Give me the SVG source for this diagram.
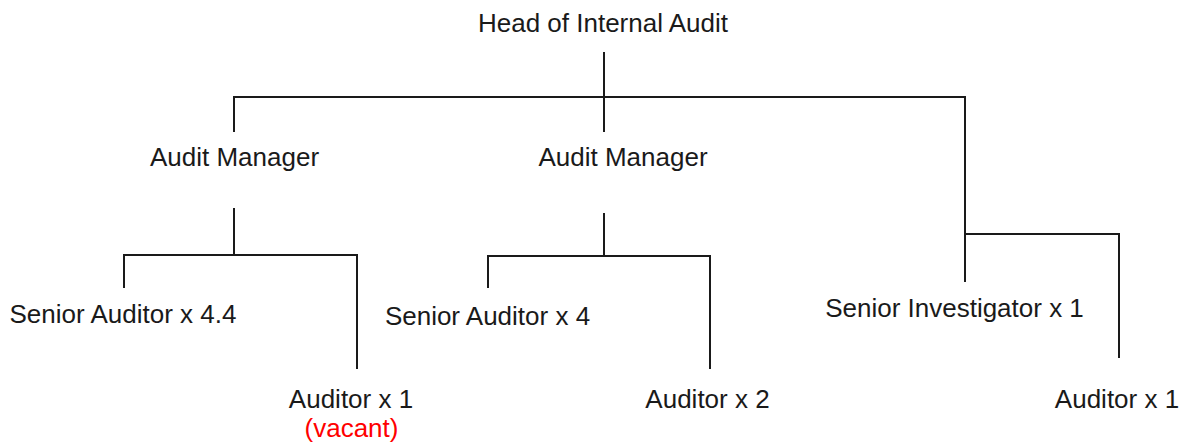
<svg xmlns="http://www.w3.org/2000/svg" width="1185" height="444" viewBox="0 0 1185 444">
<style>
text{font-family:"Liberation Sans",Arial,sans-serif;font-size:26px;fill:#1a1a1a;text-anchor:middle}
.red{fill:#ff0000}
.c path{fill:none;stroke:#1a1a1a;stroke-width:2}
</style>
<rect width="1185" height="444" fill="#ffffff"/>
<g class="c" id="connectors">
<path d="M604 52V132"/>
<path d="M234 132V97H965V282"/>
<path d="M965 234H1119V358"/>
<path d="M234 208V255"/>
<path d="M124 288V255H357V369"/>
<path d="M604 213V256"/>
<path d="M488 288V256H710V369"/>
</g>
<g id="head"><text x="603" y="32">Head of Internal Audit</text></g>
<g id="am1"><text x="234.5" y="166">Audit Manager</text></g>
<g id="am2"><text x="623" y="166">Audit Manager</text></g>
<g id="sa44"><text x="123" y="323">Senior Auditor x 4.4</text></g>
<g id="aud1"><text x="351" y="408">Auditor x 1</text><text class="red" x="351.5" y="437">(vacant)</text></g>
<g id="sa4"><text x="487.5" y="325">Senior Auditor x 4</text></g>
<g id="aud2"><text x="707.5" y="408">Auditor x 2</text></g>
<g id="si1"><text x="954.5" y="317">Senior Investigator x 1</text></g>
<g id="aud3"><text x="1117" y="408">Auditor x 1</text></g>
</svg>
